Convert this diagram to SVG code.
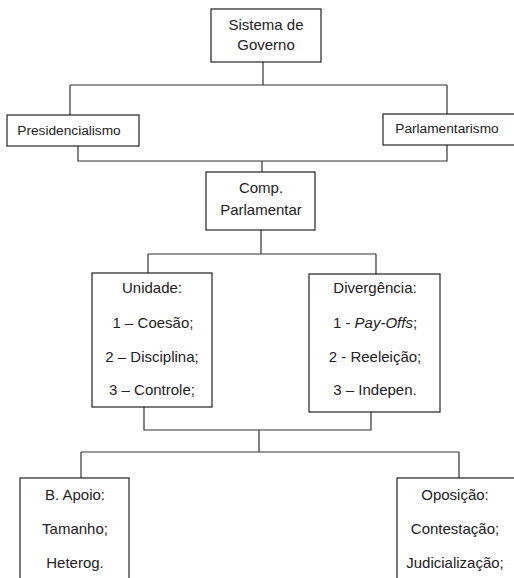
<svg xmlns="http://www.w3.org/2000/svg" width="514" height="578" viewBox="0 0 514 578">
<style>
.box{fill:#fff;stroke:#222;stroke-width:1.2}
.ln{fill:none;stroke:#333;stroke-width:1.2}
text{font-family:"Liberation Sans","Open Sans",sans-serif;font-size:15px;fill:#222;text-anchor:middle}
.sm{font-size:13.7px}
</style>
<rect width="514" height="578" fill="#fff"/>
<g id="connectors">
<path class="ln" d="M263 62V85M70 85H447M70 85V115M447 85V114"/>
<path class="ln" d="M78 146V161H447V145M262 161V172"/>
<path class="ln" d="M261 230V254M148 254H376M148 254V273M376 254V274"/>
<path class="ln" d="M144 407V430H371V412M259 430V452M81 452H459M81 452V478M459 452V478"/>
</g>
<g id="sistema">
<rect class="box" x="211" y="9" width="110" height="53"/>
<text x="266" y="30">Sistema de</text>
<text x="266" y="50">Governo</text>
</g>
<g id="presidencialismo">
<rect class="box" x="7" y="115" width="132" height="31"/>
<text class="sm" x="69" y="135">Presidencialismo</text>
</g>
<g id="parlamentarismo">
<rect class="box" x="383" y="114" width="140" height="31"/>
<text class="sm" x="447" y="133">Parlamentarismo</text>
</g>
<g id="comp">
<rect class="box" x="206" y="172" width="109" height="58"/>
<text x="261" y="193">Comp.</text>
<text x="261" y="215">Parlamentar</text>
</g>
<g id="unidade">
<rect class="box" x="92" y="273" width="120" height="134"/>
<text x="152" y="293">Unidade:</text>
<text x="153" y="328">1 – Coesão;</text>
<text x="152" y="362">2 – Disciplina;</text>
<text x="152" y="395">3 – Controle;</text>
</g>
<g id="divergencia">
<rect class="box" x="309" y="274" width="131" height="138"/>
<text x="375" y="293">Divergência:</text>
<text x="375" y="328">1 - <tspan font-style="italic">Pay-Offs</tspan>;</text>
<text x="375" y="362">2 - Reeleição;</text>
<text x="375" y="395">3 – Indepen.</text>
</g>
<g id="apoio">
<rect class="box" x="20" y="478" width="109" height="110"/>
<text x="75" y="500">B. Apoio:</text>
<text x="75" y="534">Tamanho;</text>
<text x="75" y="568">Heterog.</text>
</g>
<g id="oposicao">
<rect class="box" x="397" y="478" width="130" height="110"/>
<text x="455" y="500">Oposição:</text>
<text x="455" y="534">Contestação;</text>
<text x="455" y="568">Judicialização;</text>
</g>
</svg>
